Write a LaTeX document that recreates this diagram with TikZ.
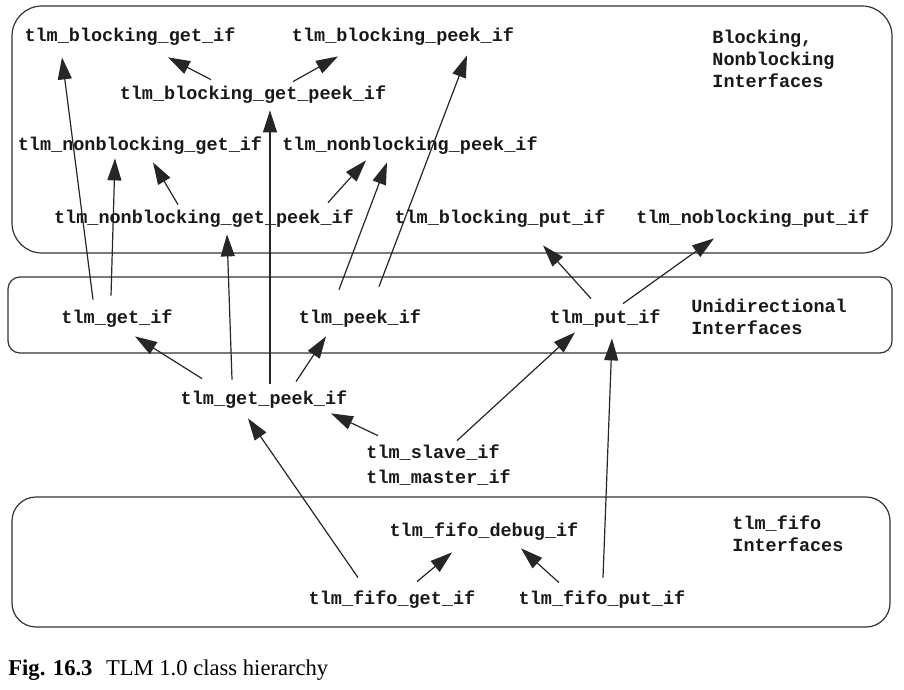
\documentclass[tikz,border=0pt]{standalone}
\usepackage{fontspec}
\setmonofont{Liberation Mono}
\newfontfamily\capfont{Liberation Serif}
\usetikzlibrary{arrows.meta,calc}

\begin{document}
\begin{tikzpicture}[x=0.5pt,y=-0.5pt,->,>={Triangle[length=11pt,width=7pt]}]
		\tikzstyle{iface}=[inner sep=0,text height=8pt,text depth=2pt,text=black!90,font=\fontsize{9.25}{11}\selectfont\ttfamily\bfseries]
		\tikzstyle{group}=[draw=black!80,line width=0.6pt,-]
		\tikzstyle{note}=[iface,anchor=west,align=left,text height=,text depth=]
		\tikzstyle{arr}=[draw=black!85,line width=0.6pt]
		\useasboundingbox (0,0) rectangle (904,690);

		% groups
		\draw[group,rounded corners=15pt] (12,6) rectangle (892,253);
		\draw[group,rounded corners=6pt] (8,277) rectangle (892,353);
		\draw[group,rounded corners=12pt] (12,497) rectangle (890,627);

		\node[note] (lblbn) at (712,59) {Blocking,\\Nonblocking\\Interfaces};
		\node[note] (lbluni) at (691,317) {Unidirectional\\Interfaces};
		\node[note] (lblfifo) at (732,534) {tlm\_fifo\\Interfaces};

		% blocking / nonblocking
		\node[iface] (bget) at (130,36) {tlm\_blocking\_get\_if};
		\node[iface] (bpeek) at (403,36) {tlm\_blocking\_peek\_if};
		\node[iface] (bgetpeek) at (253,94) {tlm\_blocking\_get\_peek\_if};
		\node[iface] (nbget) at (140,144) {tlm\_nonblocking\_get\_if};
		\node[iface] (nbpeek) at (410,144) {tlm\_nonblocking\_peek\_if};
		\node[iface] (nbgetpeek) at (204,217) {tlm\_nonblocking\_get\_peek\_if};
		\node[iface] (bput) at (500,217) {tlm\_blocking\_put\_if};
		\node[iface] (nbput) at (753,217) {tlm\_noblocking\_put\_if};

		% unidirectional
		\node[iface] (get) at (117,317) {tlm\_get\_if};
		\node[iface] (peek) at (360,317) {tlm\_peek\_if};
		\node[iface] (put) at (605,317) {tlm\_put\_if};
		\node[iface] (getpeek) at (264,398) {tlm\_get\_peek\_if};
		\node[iface,anchor=west] (slave) at (366,452) {tlm\_slave\_if};
		\node[iface,anchor=west] (master) at (366,477) {tlm\_master\_if};

		% fifo
		\node[iface] (debug) at (484,530) {tlm\_fifo\_debug\_if};
		\node[iface] (fifoget) at (392,598) {tlm\_fifo\_get\_if};
		\node[iface] (fifoput) at (602,598) {tlm\_fifo\_put\_if};

		\draw[arr] ($(get.north)+(-24,-7)$) -- ($(bget.south)+(-68,11)$);
		\draw[arr] ($(get.north)+(-6,-11)$) -- ($(nbget.south)+(-25,4)$);
		\draw[arr] ($(nbgetpeek.north)+(-26,-2)$) -- ($(nbget.south)+(13,8)$);
		\draw[arr] ($(nbgetpeek.north)+(124,-4)$) -- ($(nbpeek.south)+(-44,6)$);
		\draw[arr] ($(bgetpeek.north)+(-42,-4)$) -- ($(bget.south)+(38,11)$);
		\draw[arr] ($(bgetpeek.north)+(40,-2)$) -- ($(bpeek.south)+(-65,10)$);
		\draw[arr] ($(getpeek.north)+(6,-4)$) -- ($(bgetpeek.south)+(17,6)$);
		\draw[arr] ($(getpeek.north)+(-32,-8)$) -- ($(nbgetpeek.south)+(23,7)$);
		\draw[arr] ($(peek.north)+(-21,-17)$) -- ($(nbpeek.south)+(-23,8)$);
		\draw[arr] ($(peek.north)+(19,-20)$) -- ($(bpeek.south)+(64,9)$);
		\draw[arr] ($(getpeek.north)+(-62,-9)$) -- ($(get.south)+(18,9)$);
		\draw[arr] ($(getpeek.north)+(32,-6)$) -- ($(peek.south)+(-34,9)$);
		\draw[arr] ($(put.north)+(-14,-8)$) -- ($(bput.south)+(43,18)$);
		\draw[arr] ($(put.north)+(18,-3)$) -- ($(nbput.south)+(-39,11)$);
		\draw[arr] ($(slave.north west)+(12,-6)$) -- ($(getpeek.south)+(67,5)$);
		\draw[arr] ($(slave.north west)+(91,-1)$) -- ($(put.south)+(-30,5)$);
		\draw[arr] ($(fifoget.north)+(-34,-10)$) -- ($(getpeek.south)+(-16,10)$);
		\draw[arr] ($(fifoput.north)+(1,-10)$) -- ($(put.south)+(7,11)$);
		\draw[arr] ($(fifoget.north)+(25,-6)$) -- ($(debug.south)+(-32,12)$);
		\draw[arr] ($(fifoput.north)+(-43,-5)$) -- ($(debug.south)+(37,8)$);

		\node[anchor=base west,inner sep=0,font=\capfont\fontsize{11.3}{13}\selectfont] (caption) at (8,675) {\textbf{Fig. 16.3}\hspace{0.6em}TLM 1.0 class hierarchy};
	\end{tikzpicture}
\end{document}
